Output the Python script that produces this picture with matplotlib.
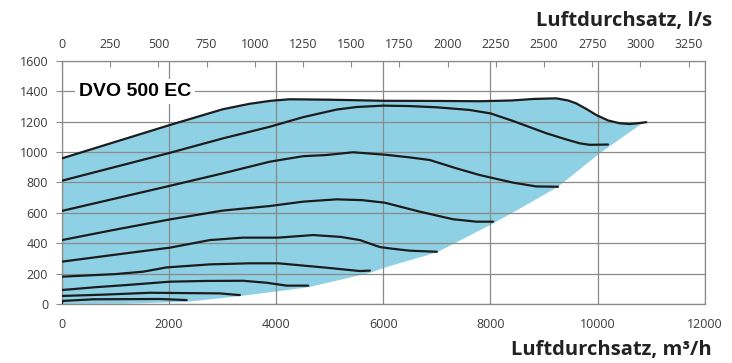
import matplotlib
matplotlib.use('Agg')
import matplotlib.pyplot as plt

# fan curves for the speed steps, x in m3/h, y in Pa
curve_x = [
    [0, 1000, 2000, 3000, 3500, 3900, 4250, 5000, 6000, 7000, 7800, 8400, 8800, 9230, 9450, 9600, 9800, 9977, 10200, 10412, 10600, 10750, 10910],
    [0, 1000, 2000, 3000, 3880, 4500, 5125, 5500, 6000, 6500, 7000, 7600, 8000, 8422, 9044, 9400, 9666, 9853, 10194],
    [0, 1000, 2000, 3000, 3880, 4500, 4940, 5436, 6027, 6500, 6867, 7365, 7800, 8422, 8857, 9261],
    [0, 1000, 2015, 3000, 3880, 4503, 5125, 5600, 6027, 6680, 7302, 7738, 8049],
    [0, 1000, 2015, 2762, 3383, 4037, 4690, 5200, 5561, 5934, 6121, 6494, 7000],
    [0, 1000, 1517, 1953, 2762, 3500, 4037, 4939, 5561, 5748],
    [0, 600, 1207, 2015, 2700, 3383, 3820, 4193, 4597],
    [0, 800, 1642, 2948, 3200, 3322],
    [0, 0, 584, 1829, 2327],
]
curve_y = [
    [959, 1068, 1177, 1282, 1318, 1338, 1348, 1345, 1338, 1337, 1335, 1340, 1350, 1354, 1340, 1321, 1282, 1244, 1208, 1190, 1185, 1190, 1197],
    [812, 903, 994, 1090, 1167, 1230, 1280, 1297, 1306, 1303, 1295, 1278, 1255, 1205, 1124, 1085, 1058, 1048, 1050],
    [613, 695, 777, 860, 937, 973, 981, 999, 983, 965, 948, 893, 849, 799, 774, 772],
    [421, 490, 557, 615, 645, 674, 689, 684, 667, 608, 558, 542, 542],
    [279, 325, 371, 421, 437, 437, 454, 442, 421, 375, 366, 351, 344],
    [180, 197, 213, 241, 261, 268, 268, 239, 217, 220],
    [92, 110, 125, 147, 152, 153, 140, 121, 121],
    [53, 62, 74, 70, 62, 59],
    [5, 20, 31, 33, 26],
]

# lower edge of the working range
edge_x = [0, 1200, 2327, 3322, 4597, 5748, 6121, 7000, 8049, 8609, 9261, 10039, 10786, 10910]
edge_y = [0, 2, 14, 52, 110, 205, 250, 340, 530, 640, 772, 992, 1178, 1197]

x_ticks = [0, 2000, 4000, 6000, 8000, 10000, 12000]
y_ticks = list(range(0, 1601, 200))
ls_ticks = list(range(0, 3251, 250))

fig = plt.figure(figsize=(7.32, 3.63), dpi=100)
ax = fig.add_axes([0.0847, 0.1625, 0.878, 0.6695])

fill_x = curve_x[0] + edge_x[::-1]
fill_y = curve_y[0] + edge_y[::-1]
ax.fill(fill_x, fill_y, color='#8fd1e4', lw=0, zorder=1)

for xs, ys in zip(curve_x, curve_y):
    ax.plot(xs, ys, color='#1c1c1c', lw=1.6, zorder=3,
            solid_capstyle='round', solid_joinstyle='round')

ax.set_xlim(0, 12000)
ax.set_ylim(0, 1600)
ax.set_xticks(x_ticks)
ax.set_yticks(y_ticks)
ax.grid(True, color='#8a8a8a', lw=0.9, zorder=2)
ax.set_axisbelow(False)
for s in ax.spines.values():
    s.set_color('#8a8a8a')
    s.set_linewidth(0.9)
    s.set_zorder(2)
ax.tick_params(axis='x', length=0, labelsize=9, labelcolor='#3a3a3a', pad=10)
ax.tick_params(axis='y', length=4, color='#8a8a8a', labelsize=9, labelcolor='#3a3a3a', pad=6)
for lab in ax.get_xticklabels() + ax.get_yticklabels():
    lab.set_family('Open Sans')

# top axis in l/s
top = ax.twiny()
top.set_xlim(0, 12000 / 3.6)
top.set_xticks(ls_ticks)
top.tick_params(axis='x', direction='in', length=4, color='#8a8a8a',
                labelsize=9, labelcolor='#3a3a3a', pad=7)
for lab in top.get_xticklabels():
    lab.set_family('Open Sans')
for s in top.spines.values():
    s.set_visible(False)

ax.text(320, 1398, 'DVO 500 EC', fontsize=14, fontweight='bold', family='Liberation Sans',
        va='center', ha='left', zorder=5,
        bbox=dict(facecolor='white', edgecolor='none', pad=3))

fig.text(0.973, 0.942, 'Luftdurchsatz, l/s', fontsize=14.5, fontweight='bold',
         family='Open Sans', color='#222222', ha='right', va='center')
fig.text(0.973, 0.036, 'Luftdurchsatz, m³/h', fontsize=14.5, fontweight='bold',
         family='Open Sans', color='#222222', ha='right', va='center')

fig.savefig('out.png', dpi=100)
